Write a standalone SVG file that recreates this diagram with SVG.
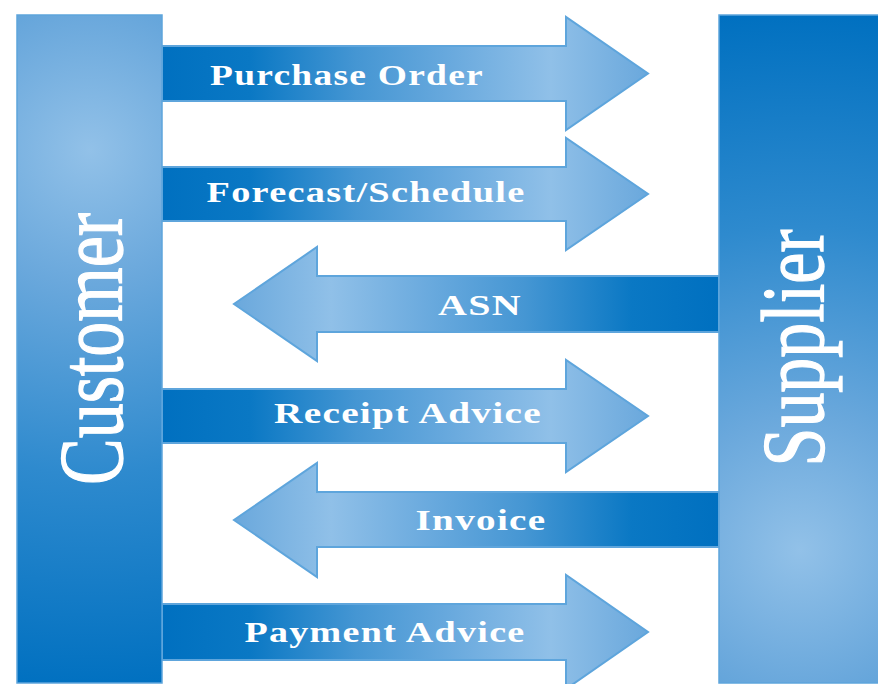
<svg xmlns="http://www.w3.org/2000/svg" width="878" height="684" viewBox="0 0 878 684">
<defs>
<linearGradient id="gR" x1="0" y1="0" x2="1" y2="0">
<stop offset="0" stop-color="#0070c0"/>
<stop offset="0.18" stop-color="#0a78c4"/>
<stop offset="0.4" stop-color="#4596d3"/>
<stop offset="0.6" stop-color="#6aaade"/>
<stop offset="0.8" stop-color="#90c0e8"/>
<stop offset="1" stop-color="#6aa8dc"/>
</linearGradient>
<linearGradient id="gL" x1="1" y1="0" x2="0" y2="0">
<stop offset="0" stop-color="#0070c0"/>
<stop offset="0.18" stop-color="#0a78c4"/>
<stop offset="0.4" stop-color="#4596d3"/>
<stop offset="0.6" stop-color="#6aaade"/>
<stop offset="0.8" stop-color="#90c0e8"/>
<stop offset="1" stop-color="#6aa8dc"/>
</linearGradient>
<radialGradient id="gC" gradientUnits="userSpaceOnUse" cx="90" cy="150" r="540">
<stop offset="0" stop-color="#92c1e8"/>
<stop offset="0.25" stop-color="#6aa8dc"/>
<stop offset="0.6" stop-color="#2e8ace"/>
<stop offset="1" stop-color="#0070c0"/>
</radialGradient>
<radialGradient id="gS" gradientUnits="userSpaceOnUse" cx="800" cy="550" r="540">
<stop offset="0" stop-color="#92c1e8"/>
<stop offset="0.25" stop-color="#6aa8dc"/>
<stop offset="0.6" stop-color="#2e8ace"/>
<stop offset="1" stop-color="#0070c0"/>
</radialGradient>
</defs>
<style>
.ar{fill:url(#gR);stroke:#5ea5dc;stroke-width:2;stroke-linejoin:miter}
.al{fill:url(#gL);stroke:#5ea5dc;stroke-width:2;stroke-linejoin:miter}
.lbl{font-family:"Liberation Serif","Times New Roman",serif;font-weight:bold;font-size:30px;letter-spacing:1px;fill:#ffffff;text-anchor:middle}
.big{font-family:"Liberation Serif","Times New Roman",serif;fill:#ffffff;stroke:#ffffff;stroke-width:1.3;text-anchor:middle}
.box{stroke:#5ea5dc;stroke-width:1.5}
</style>
<g id="connectors">
<g id="purchase-order">
<path class="ar" d="M162,46 H566 V17 L648,73.5 L566,130 V101 H162 Z"/>
<text class="lbl" x="347" y="85" textLength="274" lengthAdjust="spacingAndGlyphs">Purchase Order</text>
</g>
<g id="forecast-schedule">
<path class="ar" d="M162,167 H566 V138 L648,194 L566,250 V221 H162 Z"/>
<text class="lbl" x="366" y="202" textLength="319" lengthAdjust="spacingAndGlyphs">Forecast/Schedule</text>
</g>
<g id="asn">
<path class="al" d="M719,276 H317 V247 L234,304 L317,361 V332 H719 Z"/>
<text class="lbl" x="480" y="315" textLength="84" lengthAdjust="spacingAndGlyphs">ASN</text>
</g>
<g id="receipt-advice">
<path class="ar" d="M162,389 H566 V360 L648,416 L566,472 V443 H162 Z"/>
<text class="lbl" x="408" y="423" textLength="268" lengthAdjust="spacingAndGlyphs">Receipt Advice</text>
</g>
<g id="invoice">
<path class="al" d="M719,492 H317 V463 L234,520 L317,577 V547 H719 Z"/>
<text class="lbl" x="481" y="530" textLength="131" lengthAdjust="spacingAndGlyphs">Invoice</text>
</g>
<g id="payment-advice">
<path class="ar" d="M162,604 H566 V575 L648,632 L566,689 V660 H162 Z"/>
<text class="lbl" x="385" y="642" textLength="281" lengthAdjust="spacingAndGlyphs">Payment Advice</text>
</g>
</g>
<g id="customer">
<rect class="box" x="17" y="15" width="145" height="668" fill="url(#gC)"/>
<text class="big" transform="translate(122,349) rotate(-90)" font-size="92" textLength="272" lengthAdjust="spacingAndGlyphs">Customer</text>
</g>
<g id="supplier">
<rect class="box" x="719" y="15" width="162" height="668" fill="url(#gS)"/>
<text class="big" transform="translate(823,348) rotate(-90)" font-size="88" textLength="237" lengthAdjust="spacingAndGlyphs">Supplier</text>
</g>
</svg>
